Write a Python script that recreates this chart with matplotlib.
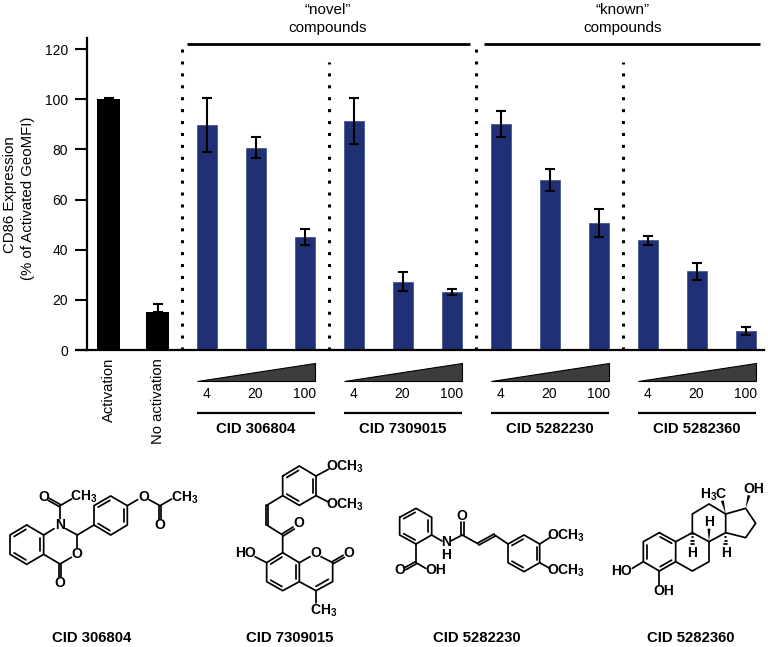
#!/usr/bin/env python3
"""CD86 expression bars with the four compound structures underneath."""

import numpy as np
import matplotlib
matplotlib.use("Agg")
import matplotlib.pyplot as plt
from matplotlib.patches import Polygon

plt.rcParams['font.family'] = ['Liberation Sans', 'DejaVu Sans']
plt.rcParams['mathtext.fontset'] = 'custom'
plt.rcParams['mathtext.rm'] = 'Liberation Sans:bold'
plt.rcParams['mathtext.bf'] = 'Liberation Sans:bold'
plt.rcParams['mathtext.default'] = 'bf'

control_labels = ["Activation", "No activation"]
control_values = [100, 15]
control_err_up = [0.3, 3.2]

compound_names = ["CID 306804", "CID 7309015", "CID 5282230", "CID 5282360"]
doses = ["4", "20", "100"]
mean_values = [89.7, 80.5, 45.0, 91.3, 27.3, 23.2, 90.0, 67.8, 50.5, 43.8, 31.3, 7.5]
err_low = [10.7, 4.0, 3.0, 9.3, 3.8, 1.2, 5.0, 4.3, 5.5, 1.8, 3.3, 1.7]
err_high = [10.8, 4.3, 3.3, 9.2, 3.7, 1.3, 5.3, 4.5, 5.7, 1.7, 3.5, 1.7]
y_ticks = [0, 20, 40, 60, 80, 100, 120]

BLUE = "#1f3075"
W, H = 768, 647
Y0, PX_UNIT = 350, 2.508     # pixel row of y=0, pixels per percent
X0, PX_BAR = 108.5, 49.0     # pixel column of first bar, pixels per bar


def y_of(row):
    return (Y0 - row) / PX_UNIT


def x_of(col):
    return (col - X0) / PX_BAR


fig = plt.figure(figsize=(W / 100, H / 100), dpi=100)
ax = fig.add_axes([87 / W, 1 - Y0 / H, (764 - 87) / W, (Y0 - 38) / H])
ax.set_xlim(x_of(87), x_of(764))
ax.set_ylim(0, y_of(38))

# bars
n_ctrl = len(control_values)
ctrl_x = np.arange(n_ctrl)
comp_x = np.arange(len(mean_values)) + n_ctrl
ax.bar(ctrl_x, control_values, width=23 / PX_BAR, color="black", zorder=2)
ax.bar(comp_x, mean_values, width=20 / PX_BAR, color=BLUE, edgecolor="#3a4a8c",
       linewidth=0.5, zorder=2)
ax.errorbar(ctrl_x, control_values, yerr=[[0, 0], control_err_up], fmt="none",
            ecolor="black", elinewidth=1.5, capsize=3.6, capthick=1.5, zorder=3)
ax.errorbar(comp_x, mean_values, yerr=[err_low, err_high], fmt="none",
            ecolor="black", elinewidth=1.5, capsize=3.6, capthick=1.5, zorder=3)

# axes
for s in ("top", "right"):
    ax.spines[s].set_visible(False)
for s in ("left", "bottom"):
    ax.spines[s].set_linewidth(1.6)
ax.set_yticks(y_ticks)
ax.tick_params(axis="y", length=8.6, width=1.5, labelsize=10, pad=5)
ax.set_xticks([])
ax.plot([x_of(75), x_of(87)], [0, 0], color="black", lw=1.6, clip_on=False,
        solid_capstyle="butt")

# dotted dividers
for i in range(len(compound_names)):
    sep = n_ctrl - 0.5 + 3 * i
    top = 42 if i % 2 == 0 else 62
    ax.plot([sep, sep], [0, y_of(top)], color="black", lw=2.2,
            linestyle=(0, (1, 2.9)), dash_capstyle="butt", clip_on=False, zorder=4)

# group headers
for left, right, cx, word in [(187, 470, 327.5, "\u201cnovel\u201d"), (484, 760, 622.5, "\u201cknown\u201d")]:
    ax.plot([x_of(left), x_of(right)], [y_of(44.5)] * 2, color="black", lw=2.0,
            clip_on=False, solid_capstyle="butt")
    ax.text(x_of(cx), y_of(10), word, ha="center", va="center", fontsize=11, clip_on=False)
    ax.text(x_of(cx), y_of(28), "compounds", ha="center", va="center", fontsize=11, clip_on=False)

# control labels
for x, lab in zip(ctrl_x, control_labels):
    ax.text(x, y_of(358), lab, rotation=90, ha="center", va="top", fontsize=10.6, clip_on=False)

# dose wedges, dose labels and compound names under the axis
half = 10 / PX_BAR
for i, name in enumerate(compound_names):
    first = n_ctrl + 3 * i
    xl, xr = first - half, first + 2 + half
    ax.add_patch(Polygon([(xl, y_of(381)), (xr, y_of(381)), (xr, y_of(363))],
                         closed=True, facecolor="#3d3d3d", edgecolor="black",
                         linewidth=0.8, clip_on=False))
    for j, d in enumerate(doses):
        ax.text(first + j, y_of(394.5), d, ha="center", va="center", fontsize=10, clip_on=False)
    ax.plot([xl, xr], [y_of(413)] * 2, color="black", lw=1.6, clip_on=False,
            solid_capstyle="butt")
    ax.text(first + 1, y_of(429), name, ha="center", va="center", fontsize=10.7,
            fontweight="bold", clip_on=False)

# overlay in pixel coordinates for y label and structures
ov = fig.add_axes([0, 0, 1, 1], facecolor="none")
ov.set_xlim(0, W)
ov.set_ylim(H, 0)
ov.axis("off")
ov.text(10.5, 195, "CD86 Expression", rotation=90, ha="center", va="center", fontsize=10.8)
ov.text(28.5, 198, "(% of Activated GeoMFI)", rotation=90, ha="center", va="center", fontsize=10.8)

BOND = 1.25


def seg(ox, oy, pts):
    pts = np.array(pts, float) / 3 + [ox, oy]
    ov.plot(pts[:, 0], pts[:, 1], color="black", lw=BOND, solid_capstyle="round",
            solid_joinstyle="round")


def ring(ox, oy, pts, doubles=()):
    seg(ox, oy, list(pts) + [pts[0]])
    c = np.mean(pts, axis=0)
    for k in doubles:
        a, b = np.array(pts[k], float), np.array(pts[(k + 1) % len(pts)], float)
        a2 = a + (c - a) * 0.2
        b2 = b + (c - b) * 0.2
        seg(ox, oy, [a2 + (b2 - a2) * 0.06, b2 - (b2 - a2) * 0.06])


def dbl(ox, oy, a, b, off=7):
    a, b = np.array(a, float), np.array(b, float)
    n = np.array([-(b - a)[1], (b - a)[0]])
    n = n / np.hypot(*n) * off / 2
    seg(ox, oy, [a + n, b + n])
    seg(ox, oy, [a - n, b - n])


def atom(ox, oy, x, y, s, fs=10, **kw):
    ov.text(x / 3 + ox, y / 3 + oy, s, ha="center", va="center", fontsize=fs, fontweight="bold", **kw)


def wedge(ox, oy, a, b, w=9):
    a, b = np.array(a, float), np.array(b, float)
    n = np.array([-(b - a)[1], (b - a)[0]])
    n = n / np.hypot(*n) * w / 2
    pts = np.array([a, b + n, b - n]) / 3 + [ox, oy]
    ov.add_patch(Polygon(pts, closed=True, color="black", lw=0))


def hash_bond(ox, oy, a, b, w=10, n=4):
    a, b = np.array(a, float), np.array(b, float)
    nv = np.array([-(b - a)[1], (b - a)[0]])
    nv = nv / np.hypot(*nv)
    for t in np.linspace(0.1, 1, n):
        p = a + (b - a) * t
        hw = w / 2 * t
        seg(ox, oy, [p + nv * hw, p - nv * hw])


CH3 = r"CH$_{3}$"
OCH3 = r"OCH$_{3}$"
H3C = r"H$_{3}$C"

# CID 306804
o = (0, 440)
ring(*o, [(80, 255), (131, 285), (131, 343), (80, 373), (30, 343), (30, 285)], [1, 3, 5])
ring(*o, [(282, 255), (282, 197), (332, 168), (382, 197), (382, 255), (332, 285)], [1, 3, 5])
seg(*o, [(131, 285), (162, 266)])
seg(*o, [(180, 236), (180, 197), (215, 177)])
dbl(*o, (180, 197), (146, 178))
seg(*o, [(197, 266), (232, 285), (282, 255)])
seg(*o, [(232, 285), (232, 325)])
seg(*o, [(214, 352), (180, 372), (131, 343)])
dbl(*o, (180, 372), (180, 410))
seg(*o, [(382, 197), (413, 179)])
seg(*o, [(447, 179), (480, 197), (515, 177)])
dbl(*o, (480, 197), (480, 237))
for x, y, s in [(180, 255, "N"), (130, 170, "O"), (252, 171, CH3), (230, 343, "O"),
                (180, 428, "O"), (430, 170, "O"), (553, 172, CH3), (480, 255, "O")]:
    atom(*o, x, y, s)
atom(*o, 275, 594, "CID 306804", 10.7)

# CID 7309015
ring(*o, [(848, 108), (898, 78), (948, 108), (948, 167), (898, 196), (848, 167)], [0, 2, 4])
seg(*o, [(948, 108), (985, 88)])
seg(*o, [(948, 167), (985, 186)])
seg(*o, [(848, 167), (800, 196)])
dbl(*o, (800, 196), (800, 255))
seg(*o, [(800, 255), (848, 285), (848, 338)])
dbl(*o, (848, 285), (881, 264))
ring(*o, [(848, 338), (898, 368), (898, 425), (848, 452), (800, 425), (800, 368)], [1, 3, 5])
seg(*o, [(898, 368), (930, 350)])
seg(*o, [(963, 350), (998, 368), (998, 425), (948, 452), (898, 425)])
seg(*o, [(985, 418), (948, 439)])
dbl(*o, (998, 368), (1031, 349))
seg(*o, [(948, 452), (948, 490)])
seg(*o, [(765, 350), (800, 368)])
for x, y, s in [(1035, 80, OCH3), (1035, 195, OCH3), (897, 250, "O"), (946, 338, "O"),
                (1047, 338, "O"), (970, 511, CH3), (735, 338, "HO")]:
    atom(*o, x, y, s)
atom(*o, 870, 594, "CID 7309015", 10.7)

# CID 5282230
o = (384, 440)
ring(*o, [(47, 232), (96, 205), (143, 232), (143, 285), (96, 312), (47, 285)], [0, 2, 4])
seg(*o, [(143, 285), (174, 303)])
seg(*o, [(200, 303), (235, 285), (283, 312)])
dbl(*o, (235, 285), (235, 246))
dbl(*o, (283, 312), (332, 285))
seg(*o, [(332, 285), (372, 312)])
ring(*o, [(372, 312), (420, 285), (467, 312), (467, 368), (420, 395), (372, 368)], [0, 2, 4])
seg(*o, [(467, 312), (497, 293)])
seg(*o, [(467, 368), (497, 385)])
seg(*o, [(96, 312), (96, 368), (125, 385)])
dbl(*o, (96, 368), (64, 386))
atom(*o, 187, 325, "N\nH", linespacing=0.9)
for x, y, s in [(233, 228, "O"), (545, 286, OCH3),
                (545, 393, OCH3), (47, 390, "O"), (155, 390, "OH")]:
    atom(*o, x, y, s)
atom(*o, 278, 594, "CID 5282230", 10.7)

# CID 5282360
ring(*o, [(826, 278), (875, 305), (875, 365), (826, 393), (778, 365), (778, 305)], [0, 2, 4])
seg(*o, [(875, 305), (925, 278), (975, 305), (975, 365), (925, 393), (875, 365)])
seg(*o, [(925, 278), (925, 222), (975, 192), (1025, 222), (1025, 278), (975, 305)])
seg(*o, [(1025, 222), (1085, 205), (1115, 250), (1085, 293), (1025, 278)])
seg(*o, [(778, 365), (745, 385)])
seg(*o, [(826, 393), (826, 434)])
wedge(*o, (1025, 222), (1015, 182))
wedge(*o, (1085, 205), (1095, 166))
wedge(*o, (975, 305), (975, 266))
hash_bond(*o, (925, 278), (925, 312))
hash_bond(*o, (1025, 278), (1025, 312))
for x, y, s in [(712, 392, "HO"), (838, 452, "OH"), (990, 165, H3C), (1110, 148, "OH"),
                (925, 338, "H"), (975, 247, "H"), (1025, 338, "H")]:
    atom(*o, x, y, s)
atom(*o, 920, 594, "CID 5282360", 10.7)

fig.savefig("out.png", dpi=100)
